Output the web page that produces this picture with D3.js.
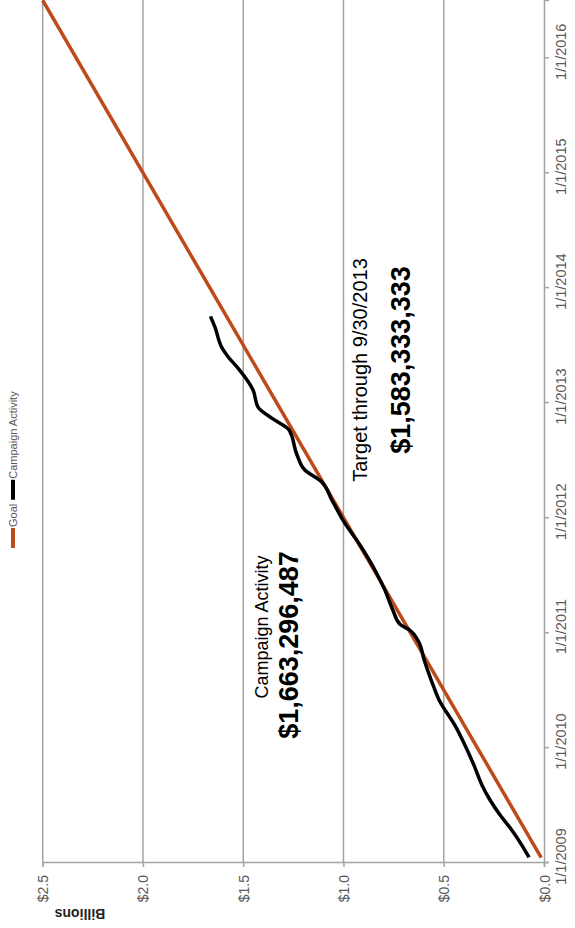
<!DOCTYPE html>
<html>
<head>
<meta charset="utf-8">
<script src="https://cdn.jsdelivr.net/npm/d3@7"></script>
<style>
  html, body { margin: 0; padding: 0; background: #fff; }
  svg { display: block; }
  text { font-family: "Liberation Sans", Arial, sans-serif; }
</style>
</head>
<body>
<svg id="chart" width="575" height="928"></svg>
<script>
// Campaign goal vs. actual activity, drawn turned on its side:
// dates run bottom-to-top, dollars (billions) run right-to-left.

const valueTicks = [0, 0.5, 1.0, 1.5, 2.0, 2.5];
const yearTicks = ["2009-01-01", "2010-01-01", "2011-01-01", "2012-01-01",
                   "2013-01-01", "2014-01-01", "2015-01-01", "2016-01-01"];

const goalDates  = ["2009-01-15", "2013-09-30", "2016-06-30"];
const goalValues = [0.014, 1.583333333, 2.5];

const activityDates = [
  "2009-01-16", "2009-02-23", "2009-04-12", "2009-05-30", "2009-07-17",
  "2009-09-02", "2009-11-04", "2010-01-07", "2010-03-11", "2010-05-29",
  "2010-08-01", "2010-10-03", "2010-12-05", "2011-01-07", "2011-01-26",
  "2011-03-11", "2011-05-14", "2011-07-16", "2011-10-04", "2011-12-22",
  "2012-02-24", "2012-04-27", "2012-05-29", "2012-07-16", "2012-10-05",
  "2012-11-10", "2012-12-16", "2013-02-08", "2013-04-18", "2013-05-24",
  "2013-06-21", "2013-08-25", "2013-09-30"
];
const activityValues = [
  0.075, 0.110, 0.160, 0.219, 0.269,
  0.309, 0.349, 0.394, 0.444, 0.522,
  0.562, 0.597, 0.628, 0.668, 0.718,
  0.753, 0.793, 0.842, 0.917, 1.002,
  1.057, 1.117, 1.191, 1.231, 1.272,
  1.356, 1.426, 1.451, 1.525, 1.575,
  1.605, 1.640, 1.663296487
];

const seriesNames = ["Goal", "Campaign Activity"];
const seriesColors = ["#BE4A1C", "#000000"];

const parse = d3.timeParse("%Y-%m-%d");
const goal = goalDates.map((d, i) => ({ date: parse(d), value: goalValues[i] }));
const activity = activityDates.map((d, i) => ({ date: parse(d), value: activityValues[i] }));

const svg = d3.select("#chart");
svg.append("rect").attr("width", 575).attr("height", 928).attr("fill", "#fff");

// value scale runs horizontally (right = $0), date scale runs vertically (bottom = 2009)
const x = d3.scaleLinear().domain([0, 2.5]).range([544, 42.7]);
const y = d3.scaleTime().domain([parse("2009-01-01"), parse("2016-07-01")]).range([862, 0]);

const axisColor = "#A3A3A3";
const labelColor = "#595959";

// gridlines
svg.append("g")
  .selectAll("line")
  .data(valueTicks.filter(v => v > 0))
  .join("line")
  .attr("x1", d => x(d)).attr("x2", d => x(d))
  .attr("y1", y.range()[1]).attr("y2", y.range()[0])
  .attr("stroke", axisColor).attr("stroke-width", 1.5);

// value axis (bottom)
const valueAxis = svg.append("g")
  .attr("transform", `translate(0,${y.range()[0]})`)
  .call(d3.axisBottom(x).tickValues(valueTicks).tickSize(5).tickFormat(d3.format("$.1f")));
valueAxis.select(".domain").attr("stroke", axisColor).attr("stroke-width", 1.5);
valueAxis.selectAll(".tick line").attr("stroke", axisColor).attr("stroke-width", 1.5);
valueAxis.selectAll(".tick text")
  .attr("fill", labelColor)
  .attr("font-size", 14)
  .attr("text-anchor", "end")
  .attr("dy", null)
  .attr("transform", "rotate(-90)")
  .attr("x", -13)
  .attr("y", 0)
  .attr("dominant-baseline", "central");

// date axis (right)
const dateAxis = svg.append("g")
  .attr("transform", `translate(${x.range()[0]},0)`)
  .call(d3.axisRight(y).tickValues(yearTicks.map(parse)).tickSize(5).tickFormat(d3.timeFormat("%-m/%-d/%Y")));
dateAxis.select(".domain").attr("stroke", axisColor).attr("stroke-width", 1.5);
dateAxis.selectAll(".tick line").attr("stroke", axisColor).attr("stroke-width", 1.5);
dateAxis.selectAll(".tick text")
  .attr("fill", labelColor)
  .attr("font-size", 14.5)
  .attr("text-anchor", "middle")
  .attr("dy", null)
  .attr("transform", "rotate(-90)")
  .attr("x", 6)
  .attr("y", 22);

// axis unit label
svg.append("text")
  .attr("transform", "translate(80,914) rotate(180)")
  .attr("text-anchor", "middle")
  .attr("dominant-baseline", "central")
  .attr("font-size", 14)
  .attr("font-weight", "bold")
  .attr("fill", "#222")
  .text("Billions");

// series lines
const goalLine = d3.line()
  .x(d => x(d.value))
  .y(d => y(d.date));

svg.append("path")
  .datum(goal)
  .attr("fill", "none")
  .attr("stroke", seriesColors[0])
  .attr("stroke-width", 3.5)
  .attr("d", goalLine);

svg.append("path")
  .datum(activity)
  .attr("fill", "none")
  .attr("stroke", seriesColors[1])
  .attr("stroke-width", 3.5)
  .attr("stroke-linejoin", "round")
  .attr("d", d3.line().x(d => x(d.value)).y(d => y(d.date)).curve(d3.curveMonotoneY));

// legend (left edge, reading bottom-to-top)
const legend = svg.append("g").attr("transform", "translate(13,548) rotate(-90)");
let lx = 0;
seriesNames.forEach((name, i) => {
  legend.append("line")
    .attr("x1", lx).attr("x2", lx + 20)
    .attr("y1", 0).attr("y2", 0)
    .attr("stroke", seriesColors[i]).attr("stroke-width", 4);
  const t = legend.append("text")
    .attr("x", lx + 21).attr("y", 0)
    .attr("dominant-baseline", "central")
    .attr("font-size", 11)
    .attr("fill", labelColor)
    .text(name);
  lx += 21 + t.node().getComputedTextLength() + 4;
});

// annotations: latest campaign total and the goal's target for the same date
const fmt = d3.format("$,.0f");
const lastActivity = activity[activity.length - 1];
const target = goal[1];

function vtext(cx, cy, size, weight, str) {
  svg.append("text")
    .attr("transform", `translate(${cx},${cy}) rotate(-90)`)
    .attr("text-anchor", "middle")
    .attr("dominant-baseline", "central")
    .attr("font-size", size)
    .attr("font-weight", weight)
    .attr("fill", "#000")
    .text(str);
}
vtext(262, 627, 18, "normal", "Campaign Activity");
vtext(289, 645, 27, "bold", fmt(lastActivity.value * 1e9));
vtext(360, 370, 20, "normal", "Target through " + d3.timeFormat("%-m/%-d/%Y")(target.date));
vtext(401, 360, 27, "bold", fmt(target.value * 1e9));
</script>
</body>
</html>
